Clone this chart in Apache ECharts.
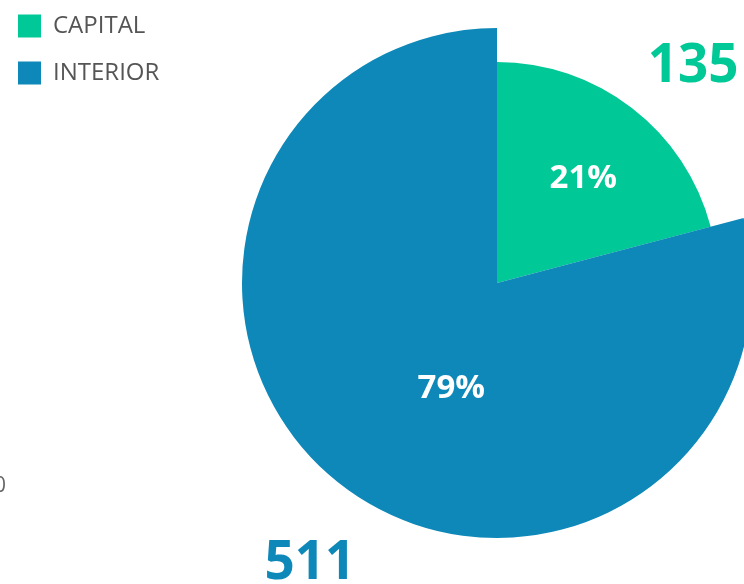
<!DOCTYPE html>
<html>
<head>
<meta charset="utf-8">
<script src="https://cdn.jsdelivr.net/npm/echarts@6/dist/echarts.min.js"></script>
<style>
html, body { margin: 0; padding: 0; background: #fff; }
#echart1 { width: 744px; height: 584px; }
</style>
</head>
<body>
<div id="echart1"></div>
<script>
// data
var names = ['CAPITAL', 'INTERIOR'];
var values = [135, 511];
var colors = ['#00c896', '#0d88b8'];

var font = '"Open Sans", "Noto Sans", sans-serif';

// big value label outside the slice
function valueLabel(color, offLen, offLen2) {
    return {
        label: {
            show: true,
            position: 'outside',
            formatter: '{c}',
            color: color,
            fontFamily: font,
            fontWeight: 'bold',
            fontSize: 53,
            overflow: 'none',
            bleedMargin: 0
        },
        labelLine: {
            show: true,
            length: offLen,
            length2: offLen2,
            lineStyle: { opacity: 0 }
        }
    };
}

// percent label inside the slice
function pctLabel(offset) {
    return {
        label: {
            show: true,
            position: 'inside',
            formatter: '{d}%',
            color: '#fff',
            fontFamily: font,
            fontWeight: 'bold',
            fontSize: 33,
            offset: offset
        }
    };
}

var hidden = { itemStyle: { color: 'rgba(0,0,0,0)' } };

// inner circle: CAPITAL slice, INTERIOR only carries its value label
var innerData = [
    Object.assign({ name: names[0], value: values[0], itemStyle: { color: colors[0] } }, pctLabel([17, -15])),
    Object.assign({ name: names[1], value: values[1] }, hidden, valueLabel(colors[1], 134, -80))
];
// outer circle: INTERIOR slice, CAPITAL only carries its value label
var outerData = [
    Object.assign({ name: names[0], value: values[0] }, hidden, valueLabel(colors[0], 18, -21)),
    Object.assign({ name: names[1], value: values[1], itemStyle: { color: colors[1] } }, pctLabel([34, 2]))
];

var pieBase = {
    type: 'pie',
    center: [497, 283],
    startAngle: 90,
    clockwise: true,
    percentPrecision: 0,
    avoidLabelOverlap: false,
    silent: true,
    animation: false,
    itemStyle: { borderWidth: 0 }
};

var option = {
    animation: false,
    legend: {
        orient: 'vertical',
        left: 13,
        top: 9,
        itemWidth: 23,
        itemHeight: 23,
        itemGap: 23,
        icon: 'rect',
        textStyle: {
            fontFamily: font,
            fontSize: 24,
            color: '#555',
            padding: [0, 0, 0, 7]
        },
        data: names.map(function (n, i) {
            return { name: n, itemStyle: { color: colors[i] } };
        })
    },
    graphic: [{
        type: 'text',
        x: -6,
        y: 476,
        style: { text: '0', font: '21px "Open Sans", sans-serif', fill: '#666' }
    }],
    series: [
        Object.assign({}, pieBase, { name: 'inner', radius: 221, data: innerData }),
        Object.assign({}, pieBase, { name: 'outer', radius: 255, data: outerData })
    ]
};

var chart = echarts.init(document.getElementById('echart1'));
chart.setOption(option);
</script>
</body>
</html>
